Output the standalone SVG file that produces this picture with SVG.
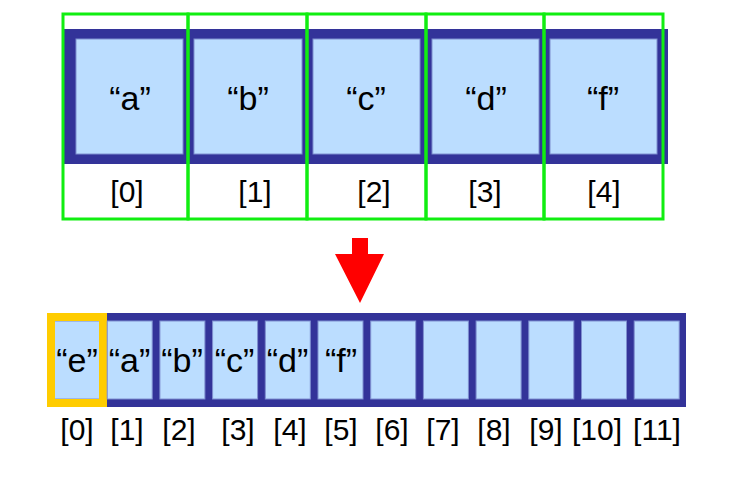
<svg xmlns="http://www.w3.org/2000/svg" width="734" height="477" viewBox="0 0 734 477">
<style>
.band{fill:#333399}
.cell{fill:#bbddff;stroke:#7f8fd0;stroke-width:1}
.grn{fill:none;stroke:#11ee11;stroke-width:3}
.val{font-family:"Liberation Sans",Arial,sans-serif;font-size:34px;fill:#000;text-anchor:middle}
.idx{font-family:"Liberation Sans",Arial,sans-serif;font-size:30px;fill:#000;text-anchor:middle}
</style>
<rect width="734" height="477" fill="#ffffff"/>
<g id="array-top">
<rect class="band" x="64" y="29" width="604" height="135"/>
<g id="top-0"><rect class="cell" x="76" y="39" width="107" height="115"/><text class="val" x="130" y="110">“a”</text><text class="idx" x="127" y="202">[0]</text><rect class="grn" x="63" y="14" width="125" height="205"/></g>
<g id="top-1"><rect class="cell" x="194" y="39" width="108" height="115"/><text class="val" x="248" y="110">“b”</text><text class="idx" x="255" y="202">[1]</text><rect class="grn" x="188" y="14" width="119" height="205"/></g>
<g id="top-2"><rect class="cell" x="313" y="39" width="107" height="115"/><text class="val" x="366" y="110">“c”</text><text class="idx" x="374" y="202">[2]</text><rect class="grn" x="307" y="14" width="119" height="205"/></g>
<g id="top-3"><rect class="cell" x="432" y="39" width="107" height="115"/><text class="val" x="486" y="110">“d”</text><text class="idx" x="485" y="202">[3]</text><rect class="grn" x="426" y="14" width="118" height="205"/></g>
<g id="top-4"><rect class="cell" x="550" y="39" width="107" height="115"/><text class="val" x="603" y="110">“f”</text><text class="idx" x="604" y="202">[4]</text><rect class="grn" x="544" y="14" width="119" height="205"/></g>
</g>
<g id="connectors">
<polygon id="arrow" points="352,238 368,238 368,254 384,254 360,303 335,254 352,254" fill="#ff0000"/>
</g>
<g id="array-bottom">
<rect class="band" x="47" y="313" width="639" height="94"/>
<g id="bot-0"><rect class="cell" x="54.5" y="321" width="45" height="78"/><rect x="51" y="317" width="52" height="86" fill="none" stroke="#ffcc00" stroke-width="8"/><text class="val" x="77" y="372">“e”</text><text class="idx" x="77" y="440">[0]</text></g>
<g id="bot-1"><rect class="cell" x="107.2" y="321" width="45" height="78"/><text class="val" x="129.5" y="372">“a”</text><text class="idx" x="127" y="440">[1]</text></g>
<g id="bot-2"><rect class="cell" x="159.9" y="321" width="45" height="78"/><text class="val" x="182" y="372">“b”</text><text class="idx" x="179" y="440">[2]</text></g>
<g id="bot-3"><rect class="cell" x="212.6" y="321" width="45" height="78"/><text class="val" x="234.5" y="372">“c”</text><text class="idx" x="238" y="440">[3]</text></g>
<g id="bot-4"><rect class="cell" x="265.3" y="321" width="45" height="78"/><text class="val" x="287.5" y="372">“d”</text><text class="idx" x="290" y="440">[4]</text></g>
<g id="bot-5"><rect class="cell" x="318" y="321" width="45" height="78"/><text class="val" x="341" y="372">“f”</text><text class="idx" x="341" y="440">[5]</text></g>
<g id="bot-6"><rect class="cell" x="370.7" y="321" width="45" height="78"/><text class="idx" x="392" y="440">[6]</text></g>
<g id="bot-7"><rect class="cell" x="423.4" y="321" width="45" height="78"/><text class="idx" x="443" y="440">[7]</text></g>
<g id="bot-8"><rect class="cell" x="476.1" y="321" width="45" height="78"/><text class="idx" x="494" y="440">[8]</text></g>
<g id="bot-9"><rect class="cell" x="528.8" y="321" width="45" height="78"/><text class="idx" x="546" y="440">[9]</text></g>
<g id="bot-10"><rect class="cell" x="581.5" y="321" width="45" height="78"/><text class="idx" x="597" y="440">[10]</text></g>
<g id="bot-11"><rect class="cell" x="634.2" y="321" width="45" height="78"/><text class="idx" x="657" y="440">[11]</text></g>
</g>
</svg>
